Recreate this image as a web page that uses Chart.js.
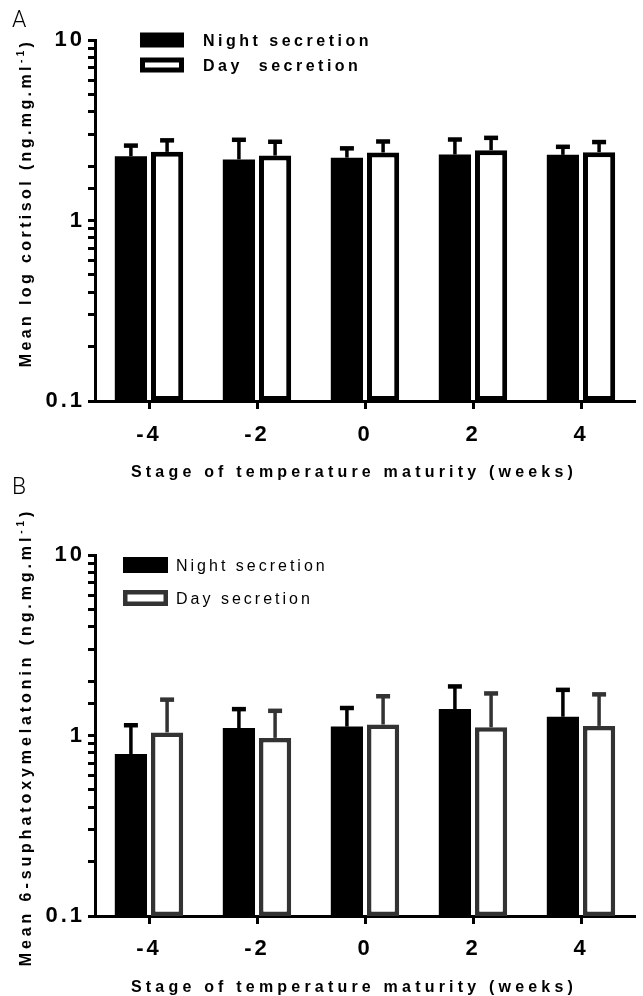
<!DOCTYPE html>
<html lang="en">
<head>
<meta charset="UTF-8">
<title>Cortisol and 6-sulphatoxymelatonin secretion</title>
<script src="https://cdn.jsdelivr.net/npm/chart.js"></script>
<style>
  body { margin: 0; background: #fff; }
  #page { position: relative; width: 643px; height: 996px; overflow: hidden; }
  canvas { position: absolute; left: 0; }
  .panel { position: absolute; left: 12px; font: 300 23px Roboto, "Open Sans", sans-serif; line-height: 23px; }
</style>
</head>
<body>
<div id="page">
  <canvas id="chartA" width="643" height="515" style="top:0"></canvas>
  <canvas id="chartB" width="643" height="501" style="top:495px"></canvas>
  <div class="panel" style="top:8px">A</div>
  <div class="panel" style="top:475px">B</div>
</div>
<script>
const weeks = ['-4', '-2', '0', '2', '4'];

// panel A: cortisol (mean and upper error)
const cortisolNight = [2.27, 2.18, 2.23, 2.32, 2.31];
const cortisolNightErr = [0.33, 0.62, 0.28, 0.49, 0.25];
const cortisolDay = [2.40, 2.29, 2.38, 2.45, 2.39];
const cortisolDayErr = [0.38, 0.44, 0.36, 0.42, 0.33];

// panel B: 6-sulphatoxymelatonin
const melatoninNight = [0.79, 1.10, 1.12, 1.40, 1.27];
const melatoninNightErr = [0.35, 0.30, 0.30, 0.47, 0.52];
const melatoninDay = [1.04, 0.97, 1.15, 1.11, 1.13];
const melatoninDayErr = [0.54, 0.40, 0.50, 0.60, 0.56];

const yLabelled = [0.1, 1, 10];

const FAMILY = '"Liberation Sans", Arial, Helvetica, sans-serif';
Chart.defaults.font.family = FAMILY;
Chart.defaults.color = '#000';

// the original export spaces its tick digits a little
const spacedTicks = {
  id: 'spacedTicks',
  beforeDraw(chart) { chart.ctx.letterSpacing = '3px'; }
};

// error bars (upper only) drawn through the y scale
const errorBars = {
  id: 'errorBars',
  afterDatasetsDraw(chart) {
    const ctx = chart.ctx;
    const y = chart.scales.y;
    chart.data.datasets.forEach((ds, i) => {
      const meta = chart.getDatasetMeta(i);
      ctx.save();
      ctx.strokeStyle = ds.errColor;
      meta.data.forEach((bar, j) => {
        const top = y.getPixelForValue(ds.data[j] + ds.errors[j]);
        ctx.lineWidth = 3.5;
        ctx.beginPath();
        ctx.moveTo(bar.x, bar.y);
        ctx.lineTo(bar.x, top);
        ctx.stroke();
        ctx.lineWidth = 4.5;
        ctx.beginPath();
        ctx.moveTo(bar.x - 7, top);
        ctx.lineTo(bar.x + 7, top);
        ctx.stroke();
      });
      ctx.restore();
    });
  }
};

// axis titles and in-plot legend, with the wide letter spacing of the original
const panelText = {
  id: 'panelText',
  afterDraw(chart, args, o) {
    const ctx = chart.ctx;
    ctx.save();
    ctx.fillStyle = '#000';
    ctx.textBaseline = 'middle';

    // y title, rotated, with superscript -1
    ctx.save();
    ctx.translate(o.yTitleX, o.yTitleY);
    ctx.rotate(-Math.PI / 2);
    const big = 'bold 16px ' + FAMILY;
    const small = 'bold 10px ' + FAMILY;
    ctx.letterSpacing = o.yTitleSpacing + 'px';
    ctx.textAlign = 'left';
    ctx.font = big;
    const w1 = ctx.measureText(o.yTitle[0]).width;
    const w3 = ctx.measureText(o.yTitle[2]).width;
    ctx.font = small;
    const w2 = ctx.measureText(o.yTitle[1]).width;
    let x = -(w1 + w2 + w3) / 2;
    ctx.font = big;
    ctx.fillText(o.yTitle[0], x, 0);
    x += w1;
    ctx.font = small;
    ctx.fillText(o.yTitle[1], x, -6);
    x += w2;
    ctx.font = big;
    ctx.fillText(o.yTitle[2], x, 0);
    ctx.restore();

    // x title
    ctx.font = big;
    ctx.letterSpacing = o.xTitleSpacing + 'px';
    ctx.textAlign = 'center';
    ctx.fillText(o.xTitle, o.xTitleX, o.xTitleY);

    // legend
    const lg = o.legend;
    ctx.font = lg.font;
    ctx.letterSpacing = lg.spacing + 'px';
    ctx.textAlign = 'left';
    chart.data.datasets.forEach((ds, i) => {
      const cy = lg.rows[i];
      const top = cy - lg.boxH / 2;
      ctx.fillStyle = ds.backgroundColor;
      ctx.fillRect(lg.boxX, top, lg.boxW, lg.boxH);
      if (ds.borderWidth) {
        const bw = ds.borderWidth;
        ctx.strokeStyle = ds.borderColor;
        ctx.lineWidth = bw;
        ctx.strokeRect(lg.boxX + bw / 2, top + bw / 2, lg.boxW - bw, lg.boxH - bw);
      }
      ctx.fillStyle = '#000';
      ctx.fillText(ds.label, lg.textX, cy + 2);
    });
    ctx.restore();
  }
};

function makeChart(id, night, nightErr, day, dayErr, look) {
  const ctx = document.getElementById(id).getContext('2d');
  return new Chart(ctx, {
    type: 'bar',
    data: {
      labels: weeks,
      datasets: [
        {
          label: 'Night secretion',
          data: night,
          errors: nightErr,
          errColor: '#000',
          backgroundColor: '#000',
          borderWidth: 0
        },
        {
          label: look.dayLabel,
          data: day,
          errors: dayErr,
          errColor: look.dayColor,
          backgroundColor: '#fff',
          borderColor: look.dayColor,
          borderWidth: look.dayBorder,
          borderSkipped: false
        }
      ]
    },
    options: {
      responsive: false,
      animation: false,
      categoryPercentage: 0.67,
      barPercentage: 0.89,
      layout: { padding: { top: look.top, right: 8, left: 0, bottom: 0 } },
      plugins: {
        legend: { display: false },
        tooltip: { enabled: false },
        panelText: look.text
      },
      scales: {
        x: {
          grid: { drawOnChartArea: false, offset: false, tickLength: 8, tickWidth: 3, tickColor: '#000' },
          border: { color: '#000', width: 3 },
          ticks: { color: '#000', font: { size: 22, weight: 'bold' }, padding: look.xPad },
          afterFit: s => { s.height = look.xHeight; }
        },
        y: {
          type: 'logarithmic',
          min: 0.1,
          max: 10,
          grid: { drawOnChartArea: false, tickLength: 7, tickWidth: 3, tickColor: '#000' },
          border: { color: '#000', width: 3 },
          ticks: {
            autoSkip: false,
            color: '#000',
            font: { size: 22, weight: 'bold' },
            padding: 3,
            callback: v => yLabelled.some(t => Math.abs(t - v) < 1e-9) ? String(v) : ''
          },
          afterFit: s => { s.width = 95; }
        }
      }
    },
    plugins: [spacedTicks, errorBars, panelText]
  });
}

makeChart('chartA', cortisolNight, cortisolNightErr, cortisolDay, cortisolDayErr, {
  dayLabel: 'Day  secretion',
  dayColor: '#000',
  dayBorder: 5,
  top: 40,
  xHeight: 114,
  xPad: 13,
  text: {
    yTitle: ['Mean log cortisol (ng.mg.ml', '-1', ')'],
    yTitleX: 27, yTitleY: 203, yTitleSpacing: 3.4,
    xTitle: 'Stage of temperature maturity (weeks)',
    xTitleX: 354, xTitleY: 473, xTitleSpacing: 4.2,
    legend: { font: 'bold 16px ' + FAMILY, spacing: 3.5, boxX: 140, boxW: 44, boxH: 15, textX: 203, rows: [40, 65] }
  }
});

makeChart('chartB', melatoninNight, melatoninNightErr, melatoninDay, melatoninDayErr, {
  dayLabel: 'Day secretion',
  dayColor: '#333',
  dayBorder: 4.5,
  top: 60,
  xHeight: 80,
  xPad: 12,
  text: {
    yTitle: ['Mean 6-suphatoxymelatonin (ng.mg.ml', '-1', ')'],
    yTitleX: 27, yTitleY: 242, yTitleSpacing: 3.9,
    xTitle: 'Stage of temperature maturity (weeks)',
    xTitleX: 354, xTitleY: 493, xTitleSpacing: 4.2,
    legend: { font: '16px ' + FAMILY, spacing: 3, boxX: 123, boxW: 45, boxH: 16, textX: 176, rows: [70, 103] }
  }
});
</script>
</body>
</html>
